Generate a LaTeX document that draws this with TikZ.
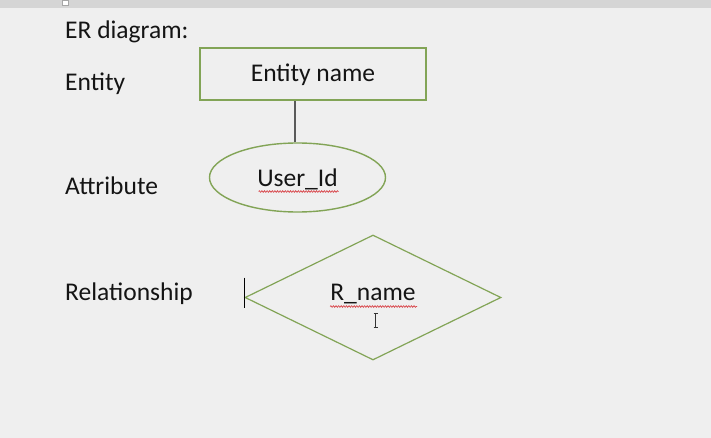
\documentclass[tikz,border=0pt]{standalone}
\usepackage{fontspec}
\setmainfont{Carlito}
\usepackage{xcolor}
\usetikzlibrary{positioning,shapes.geometric,decorations.pathmorphing}
\definecolor{pagegray}{HTML}{EFEFEF}
\definecolor{bargray}{HTML}{D5D5D5}
\definecolor{shapegreen}{HTML}{82A456}
\definecolor{linkgray}{HTML}{5A5A5A}
\definecolor{spellred}{HTML}{D8454A}
\tikzset{
	rowtitle/.style={anchor=base west, inner sep=0pt, font=\fontsize{25.5}{30}\selectfont, text=black!92},
	er-entity/.style={draw=shapegreen, line width=1.6pt, fill=pagegray, minimum width=226pt, minimum height=52pt, text height=16pt, text depth=0pt, font=\fontsize{25.5}{30}\selectfont, text=black!92},
	er-attr/.style={ellipse, draw=shapegreen, line width=1.4pt, fill=pagegray, minimum width=176pt, minimum height=69pt, inner sep=0pt, text height=18pt, text depth=0pt, font=\fontsize{25.5}{30}\selectfont, text=black!92},
	er-rel/.style={diamond, draw=shapegreen, line width=1.2pt, fill=pagegray, minimum width=256pt, minimum height=125pt, inner sep=0pt, text height=16pt, text depth=9.6pt, font=\fontsize{25.5}{30}\selectfont, text=black!92},
	spell/.style={draw=spellred, line width=0.7pt, decorate, decoration={snake, amplitude=0.8pt, segment length=2.6pt}}
}

\begin{document}
\begin{tikzpicture}[x=1pt, y=-1pt]
			\fill[pagegray] (0,0) rectangle (711,438);
			\useasboundingbox (0,0) rectangle (711,438);
			\fill[bargray] (0,0) rectangle (711,8);
			\filldraw[fill=white, draw=gray!70, line width=0.5pt] (62,0) rectangle (68,5);
			
			\node[rowtitle] (title) at (65,39) {ER diagram:};
			\node[rowtitle] (row-entity) at (65,91) {Entity};
			\node[rowtitle] (row-attr) at (65,195) {Attribute};
			\node[rowtitle] (row-rel) at (65,300) {Relationship};
			
			\node[er-entity] (entity) at (313,74) {Entity name};
			\node[er-attr] (attr) at (297.5,177.5) {User\_Id};
			\node[er-rel] (rel) at (373,297.5) {R\_name};
			
			\draw[linkgray, line width=1.2pt] (attr.north -| 295,0) -- (entity.south -| 295,0);
			
			\draw[spell] ([xshift=-39pt, yshift=-14pt]attr.center) -- ++(80,0); %under User_Id
			\draw[spell] ([xshift=-43pt, yshift=-9pt]rel.center) -- ++(87,0); %under R_name
			
			\draw[black, line width=1pt] ([yshift=20pt]rel.west) -- ([yshift=-10pt]rel.west); %caret
			\draw[black!80, line width=0.8pt] (373.5,313) -- (377.5,313) (375.5,313) -- (375.5,327) (373.5,327) -- (377.5,327); %pointer
		\end{tikzpicture}
\end{document}
